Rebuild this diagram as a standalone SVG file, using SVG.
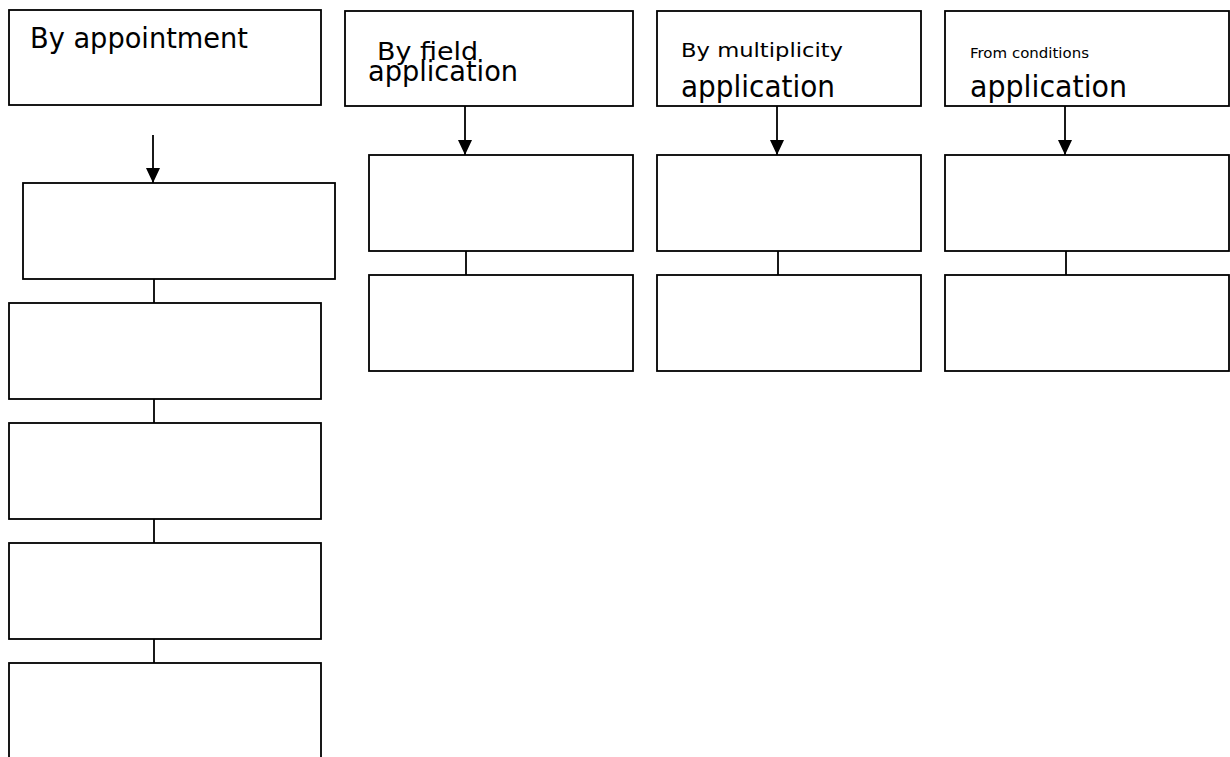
<svg xmlns="http://www.w3.org/2000/svg" width="1230" height="757" viewBox="0 0 1230 757">
<style>
.box{fill:#fff;stroke:#000;stroke-width:1.8}
.ln{stroke:#000;stroke-width:1.8;fill:none}
text{font-family:"DejaVu Sans","Liberation Sans",sans-serif;fill:#000}
</style>
<defs>
<marker id="ah" markerUnits="userSpaceOnUse" markerWidth="16" markerHeight="16" refX="15" refY="7" orient="auto">
<path d="M0,0 L15,7 L0,14 z" fill="#000"/>
</marker>
</defs>
<rect width="1230" height="757" fill="#fff"/>
<g id="n-appointment"><rect class="box" x="9" y="10" width="312" height="95"/><text x="30" y="48" font-size="27.5" textLength="218" lengthAdjust="spacingAndGlyphs">By appointment</text></g>
<g id="n-field"><rect class="box" x="345" y="11" width="288" height="95"/><text x="377" y="60" font-size="25" textLength="101" lengthAdjust="spacingAndGlyphs">By field</text><text x="368" y="81" font-size="29" textLength="150" lengthAdjust="spacingAndGlyphs">application</text></g>
<g id="n-mult"><rect class="box" x="657" y="11" width="264" height="95"/><text x="681" y="57" font-size="19.5" textLength="162" lengthAdjust="spacingAndGlyphs">By multiplicity</text><text x="681" y="97" font-size="30.5" textLength="154" lengthAdjust="spacingAndGlyphs">application</text></g>
<g id="n-cond"><rect class="box" x="945" y="11" width="284" height="95"/><text x="970" y="58" font-size="13.5" textLength="119" lengthAdjust="spacingAndGlyphs">From conditions</text><text x="970" y="97" font-size="30.5" textLength="157" lengthAdjust="spacingAndGlyphs">application</text></g>
<g id="n-l1"><rect class="box" x="23" y="183" width="312" height="96"/></g>
<g id="n-l2"><rect class="box" x="9" y="303" width="312" height="96"/></g>
<g id="n-l3"><rect class="box" x="9" y="423" width="312" height="96"/></g>
<g id="n-l4"><rect class="box" x="9" y="543" width="312" height="96"/></g>
<g id="n-l5"><rect class="box" x="9" y="663" width="312" height="110"/></g>
<g id="n-f1"><rect class="box" x="369" y="155" width="264" height="96"/></g>
<g id="n-f2"><rect class="box" x="369" y="275" width="264" height="96"/></g>
<g id="n-m1"><rect class="box" x="657" y="155" width="264" height="96"/></g>
<g id="n-m2"><rect class="box" x="657" y="275" width="264" height="96"/></g>
<g id="n-c1"><rect class="box" x="945" y="155" width="284" height="96"/></g>
<g id="n-c2"><rect class="box" x="945" y="275" width="284" height="96"/></g>
<g id="connectors">
<line class="ln" x1="153" y1="135" x2="153" y2="183" marker-end="url(#ah)"/>
<line class="ln" x1="465" y1="106" x2="465" y2="155" marker-end="url(#ah)"/>
<line class="ln" x1="777" y1="106" x2="777" y2="155" marker-end="url(#ah)"/>
<line class="ln" x1="1065" y1="106" x2="1065" y2="155" marker-end="url(#ah)"/>
<line class="ln" x1="154" y1="279" x2="154" y2="303"/>
<line class="ln" x1="154" y1="399" x2="154" y2="423"/>
<line class="ln" x1="154" y1="519" x2="154" y2="543"/>
<line class="ln" x1="154" y1="639" x2="154" y2="663"/>
<line class="ln" x1="466" y1="251" x2="466" y2="275"/>
<line class="ln" x1="778" y1="251" x2="778" y2="275"/>
<line class="ln" x1="1066" y1="251" x2="1066" y2="275"/>
</g>
</svg>
